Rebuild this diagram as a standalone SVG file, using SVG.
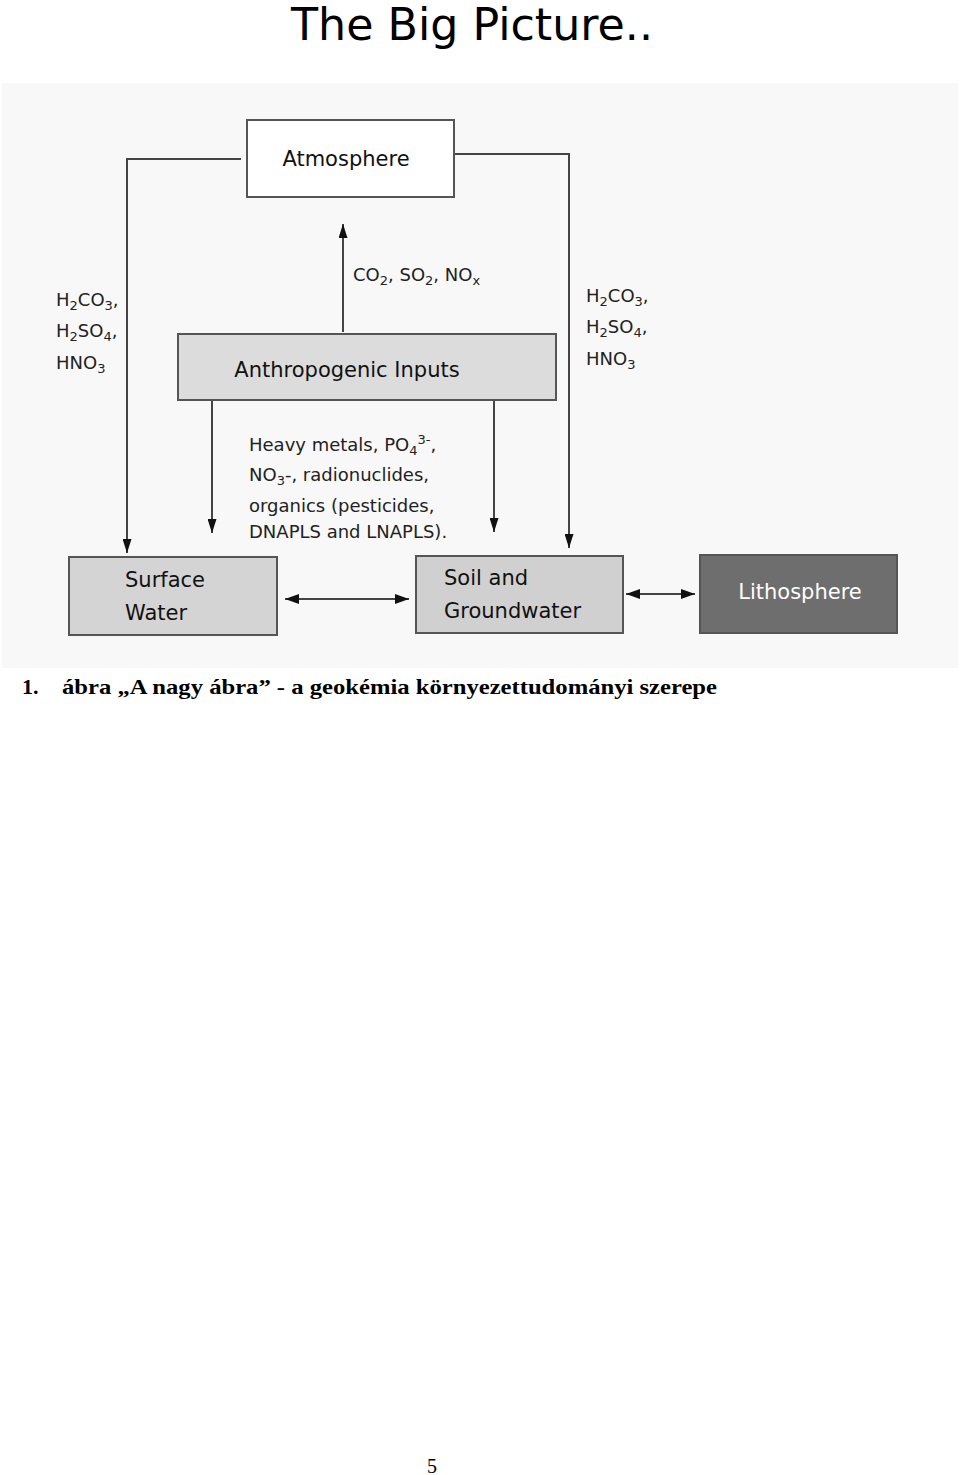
<svg xmlns="http://www.w3.org/2000/svg" width="960" height="1475" viewBox="0 0 960 1475">
<defs>
<style>
.box{stroke:#555;stroke-width:2}
.ln{stroke:#444;stroke-width:2;fill:none}
.t{font-family:"DejaVu Sans","Noto Sans",sans-serif;fill:#111}
.lbl{font-family:"DejaVu Sans","Noto Sans",sans-serif;fill:#222;font-size:18px}
.sub{font-size:13px}
</style>
<marker id="ah" viewBox="0 0 10 10" refX="10" refY="5" markerWidth="14" markerHeight="10" markerUnits="userSpaceOnUse" orient="auto-start-reverse" preserveAspectRatio="none">
<path d="M0,0 L10,5 L0,10 z" fill="#111"/>
</marker>
<marker id="ah2" viewBox="0 0 10 10" refX="10" refY="5" markerWidth="14" markerHeight="9" markerUnits="userSpaceOnUse" orient="auto-start-reverse" preserveAspectRatio="none">
<path d="M0,0 L10,5 L0,10 z" fill="#111"/>
</marker>
</defs>
<rect x="0" y="0" width="960" height="1475" fill="#fff"/>
<rect x="2" y="83" width="956" height="585" fill="#f8f8f8"/>
<text x="472" y="40" text-anchor="middle" font-family="DejaVu Sans,sans-serif" font-size="44" fill="#000" textLength="362" lengthAdjust="spacingAndGlyphs">The Big Picture..</text>

<g id="connectors">
<polyline class="ln" points="241,159 127,159 127,553" marker-end="url(#ah2)"/>
<polyline class="ln" points="454,154 569,154 569,548" marker-end="url(#ah2)"/>
<line class="ln" x1="343" y1="332" x2="343" y2="224" marker-end="url(#ah2)"/>
<line class="ln" x1="212" y1="401" x2="212" y2="533" marker-end="url(#ah2)"/>
<line class="ln" x1="494" y1="401" x2="494" y2="532" marker-end="url(#ah2)"/>
<line class="ln" x1="285" y1="599" x2="409" y2="599" marker-start="url(#ah)" marker-end="url(#ah)"/>
<line class="ln" x1="626" y1="594" x2="695" y2="594" marker-start="url(#ah)" marker-end="url(#ah)"/>
</g>

<g id="label-left">
<text class="lbl" x="56" y="306">H<tspan class="sub" dy="4">2</tspan><tspan dy="-4">CO</tspan><tspan class="sub" dy="4">3</tspan><tspan dy="-4">,</tspan></text>
<text class="lbl" x="56" y="337">H<tspan class="sub" dy="4">2</tspan><tspan dy="-4">SO</tspan><tspan class="sub" dy="4">4</tspan><tspan dy="-4">,</tspan></text>
<text class="lbl" x="56" y="369">HNO<tspan class="sub" dy="4">3</tspan></text>
</g>
<g id="label-right">
<text class="lbl" x="586" y="302">H<tspan class="sub" dy="4">2</tspan><tspan dy="-4">CO</tspan><tspan class="sub" dy="4">3</tspan><tspan dy="-4">,</tspan></text>
<text class="lbl" x="586" y="333">H<tspan class="sub" dy="4">2</tspan><tspan dy="-4">SO</tspan><tspan class="sub" dy="4">4</tspan><tspan dy="-4">,</tspan></text>
<text class="lbl" x="586" y="365">HNO<tspan class="sub" dy="4">3</tspan></text>
</g>
<g id="label-up">
<text class="lbl" x="353" y="281">CO<tspan class="sub" dy="4">2</tspan><tspan dy="-4">, SO</tspan><tspan class="sub" dy="4">2</tspan><tspan dy="-4">, NO</tspan><tspan class="sub" dy="4">x</tspan></text>
</g>
<g id="label-down">
<text class="lbl" x="249" y="451">Heavy metals, PO<tspan class="sub" dy="4">4</tspan><tspan class="sub" dy="-11">3-</tspan><tspan dy="7">,</tspan></text>
<text class="lbl" x="249" y="481">NO<tspan class="sub" dy="4">3</tspan><tspan dy="-4">-, radionuclides,</tspan></text>
<text class="lbl" x="249" y="512">organics (pesticides,</text>
<text class="lbl" x="249" y="538">DNAPLS and LNAPLS).</text>
</g>

<g id="atmosphere">
<rect class="box" x="247" y="120" width="207" height="77" fill="#fff"/>
<text class="t" x="346" y="166" text-anchor="middle" font-size="21">Atmosphere</text>
</g>
<g id="anthropogenic">
<rect class="box" x="178" y="334" width="378" height="66" fill="#dcdcdc"/>
<text class="t" x="347" y="377" text-anchor="middle" font-size="21">Anthropogenic Inputs</text>
</g>
<g id="surface-water">
<rect class="box" x="69" y="557" width="208" height="78" fill="#d4d4d4"/>
<text class="t" x="125" y="587" font-size="21">Surface</text>
<text class="t" x="125" y="620" font-size="21">Water</text>
</g>
<g id="soil-groundwater">
<rect class="box" x="416" y="556" width="207" height="77" fill="#d0d0d0"/>
<text class="t" x="444" y="585" font-size="21">Soil and</text>
<text class="t" x="444" y="618" font-size="21">Groundwater</text>
</g>
<g id="lithosphere">
<rect class="box" x="700" y="555" width="197" height="78" fill="#6e6e6e"/>
<text x="800" y="599" text-anchor="middle" font-family="DejaVu Sans,sans-serif" font-size="21" fill="#fff">Lithosphere</text>
</g>

<text x="22" y="694" font-family="Liberation Serif,serif" font-weight="bold" font-size="22" fill="#000">1.</text>
<text x="62" y="694" font-family="Liberation Serif,serif" font-weight="bold" font-size="22" fill="#000" textLength="655" lengthAdjust="spacingAndGlyphs">ábra „A nagy ábra” - a geokémia környezettudományi szerepe</text>
<text x="432" y="1473" font-family="Liberation Serif,serif" font-size="20" fill="#000" text-anchor="middle">5</text>
</svg>
